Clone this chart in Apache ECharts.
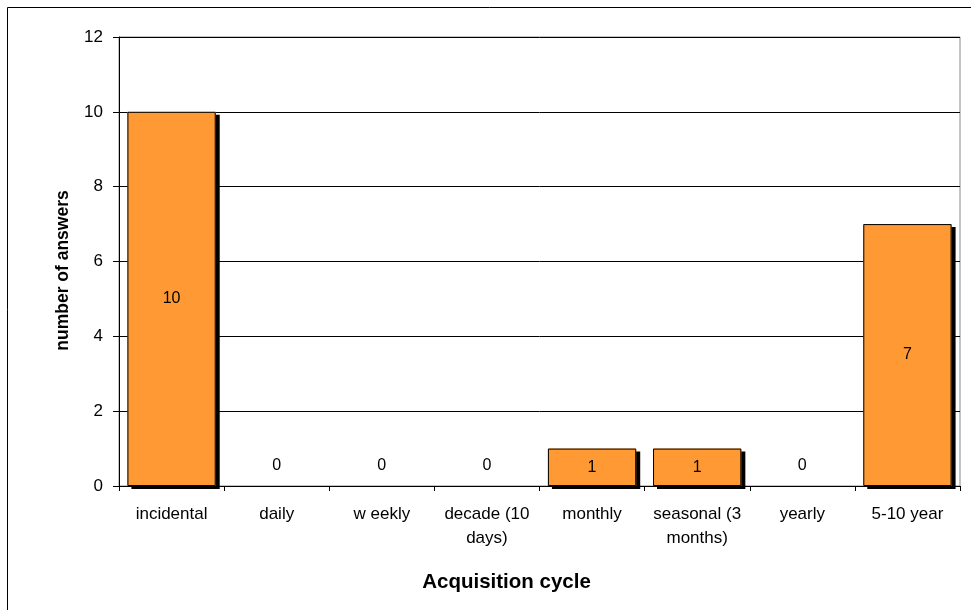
<!DOCTYPE html>
<html><head><meta charset="utf-8">
<script src="https://cdn.jsdelivr.net/npm/echarts@6/dist/echarts.min.js"></script>
<style>html,body{margin:0;padding:0;background:#fff}#c{width:971px;height:610px}</style>
</head><body><div id="c"></div>
<script>
const categories = ['incidental', 'daily', 'w eekly', 'decade (10\ndays)', 'monthly', 'seasonal (3\nmonths)', 'yearly', '5-10 year'];
const answers = [10, 0, 0, 0, 1, 1, 0, 7];
const yTicks = { min: 0, max: 12, interval: 2 };

const FONT = '"Liberation Sans", Arial, sans-serif';
const chart = echarts.init(document.getElementById('c'), null, { renderer: 'canvas' });
const outlineData = answers.map(v => v === 0
  ? { value: v, label: { position: 'top', distance: 12 }, itemStyle: { borderWidth: 0 } }
  : v);
chart.setOption({
  animation: false,
  backgroundColor: '#fff',
  graphic: [{
    type: 'rect', shape: { x: 7.5, y: 7.5, width: 1000, height: 700 },
    style: { fill: 'none', stroke: '#000', lineWidth: 1 }, z: -1
  }],
  grid: { left: 119, right: 11, top: 37, bottom: 124, show: true, borderColor: '#888', borderWidth: 1, backgroundColor: 'transparent' },
  xAxis: {
    type: 'category', data: categories,
    name: 'Acquisition cycle', nameLocation: 'middle', nameGap: 86,
    nameTextStyle: { fontFamily: FONT, fontSize: 20.5, fontWeight: 'bold', color: '#000', padding: [0, 66, 0, 0] },
    axisLine: { lineStyle: { color: '#000', width: 1 } },
    axisTick: { show: true, length: 5, lineStyle: { color: '#000' } },
    axisLabel: { fontFamily: FONT, fontSize: 17, color: '#000', margin: 16, lineHeight: 24, interval: 0 }
  },
  yAxis: {
    type: 'value', min: yTicks.min, max: yTicks.max, interval: yTicks.interval,
    name: 'number of answers', nameLocation: 'middle', nameGap: 47, nameRotate: 90,
    nameTextStyle: { fontFamily: FONT, fontSize: 17.5, fontWeight: 'bold', color: '#000', padding: [0, 18, 0, 0] },
    axisLine: { show: true, lineStyle: { color: '#000', width: 1 } },
    axisTick: { show: true, length: 6, lineStyle: { color: '#000' } },
    axisLabel: { fontFamily: FONT, fontSize: 17, color: '#000', margin: 16 },
    splitLine: { show: true, lineStyle: { color: '#000', width: 1 } }
  },
  series: [{
    type: 'bar', data: answers, barCategoryGap: '16%', z: 2,
    itemStyle: { color: '#FF9933', borderWidth: 0,
      shadowColor: '#000', shadowOffsetX: 4, shadowOffsetY: 3, shadowBlur: 0 },
    label: { show: false }
  }, {
    type: 'bar', data: outlineData, barGap: '-100%', barCategoryGap: '16%', z: 3,
    itemStyle: { color: 'rgba(0,0,0,0)', borderColor: '#000', borderWidth: 1 },
    label: { show: true, position: 'inside', fontFamily: FONT, fontSize: 16, color: '#000' }
  }]
});
</script></body></html>
